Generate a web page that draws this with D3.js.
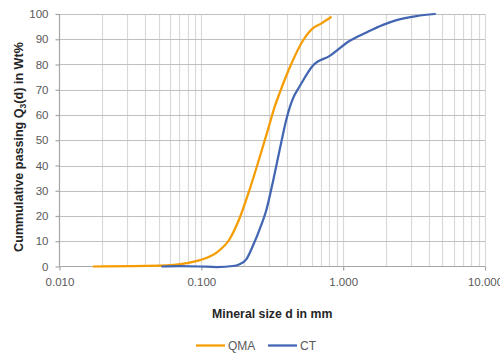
<!DOCTYPE html>
<html>
<head>
<meta charset="utf-8">
<script src="https://cdn.jsdelivr.net/npm/d3@7"></script>
<style>
  html, body { margin: 0; padding: 0; background: #fff; }
  svg { display: block; font-family: "Liberation Sans", Arial, sans-serif; }
</style>
</head>
<body>
<svg id="chart" width="500" height="354"></svg>
<script>
// Particle size distributions (size in mm, cumulative passing in Wt%)
const qmaSize = [0.0174, 0.0508, 0.0787, 0.099, 0.128, 0.158, 0.186, 0.219, 0.251, 0.295, 0.330, 0.357, 0.420, 0.521, 0.613, 0.703, 0.817];
const qmaPass = [0, 0.3, 1.3, 2.6, 5.5, 10.8, 19.1, 30.5, 41.1, 54.2, 63.5, 68.8, 78.8, 89.5, 94.4, 96.3, 98.7];

const ctSize = [0.0531, 0.0703, 0.0973, 0.128, 0.172, 0.186, 0.208, 0.231, 0.258, 0.288, 0.320, 0.357, 0.398, 0.420, 0.443, 0.494, 0.613, 0.804, 1.114, 1.46, 1.91, 2.38, 3.29, 4.43];
const ctPass = [0, 0.1, 0, -0.2, 0.3, 0.9, 2.9, 8.2, 14.8, 22.6, 33.7, 46.3, 58.3, 63.0, 66.6, 71.4, 79.6, 83.4, 89.4, 92.7, 95.7, 97.6, 99.2, 100];

const xTicks = [0.01, 0.1, 1, 10];
const xTickLabels = ["0.010", "0.100", "1.000", "10.000"];
const yTicks = [0, 10, 20, 30, 40, 50, 60, 70, 80, 90, 100];

const seriesNames = ["QMA", "CT"];
const seriesColors = ["#f59c00", "#4266b2"];

const series = [
  { name: seriesNames[0], color: seriesColors[0], pts: qmaSize.map((d, i) => [d, qmaPass[i]]) },
  { name: seriesNames[1], color: seriesColors[1], pts: ctSize.map((d, i) => [d, ctPass[i]]) }
];

const svg = d3.select("#chart");
const plot = { left: 59.5, right: 485, top: 14, bottom: 266.5 };

const x = d3.scaleLog().domain([0.01, 10]).range([plot.left, plot.right]);
const y = d3.scaleLinear().domain([0, 100]).range([plot.bottom, plot.top]);

// Minor vertical gridlines (1..9 per decade)
const minor = [];
for (let e = -2; e < 1; e++) {
  for (let m = 1; m <= 9; m++) minor.push(m * Math.pow(10, e));
}
minor.push(10);

svg.append("g")
  .selectAll("line")
  .data(minor.filter(v => v > 0.01))
  .join("line")
  .attr("x1", d => Math.round(x(d)) + 0.5)
  .attr("x2", d => Math.round(x(d)) + 0.5)
  .attr("y1", plot.top)
  .attr("y2", plot.bottom)
  .attr("stroke", "#d9d9d9")
  .attr("stroke-width", 1.2);

// Horizontal gridlines
svg.append("g")
  .selectAll("line")
  .data(yTicks.filter(v => v > 0))
  .join("line")
  .attr("x1", plot.left)
  .attr("x2", plot.right)
  .attr("y1", d => Math.round(y(d)) + 0.5)
  .attr("y2", d => Math.round(y(d)) + 0.5)
  .attr("stroke", "#c0c0c0")
  .attr("stroke-width", 1.2);

// Axes
const yAxis = svg.append("g")
  .attr("transform", `translate(${plot.left},0)`)
  .call(d3.axisLeft(y).tickValues(yTicks).tickSize(4).tickPadding(7).tickFormat(d3.format("d")));

const xAxis = svg.append("g")
  .attr("transform", `translate(0,${plot.bottom})`)
  .call(d3.axisBottom(x).tickValues(xTicks).tickSize(4).tickPadding(7)
    .tickFormat((d, i) => xTickLabels[i]));

[yAxis, xAxis].forEach(g => {
  g.select(".domain").attr("stroke", "#a6a6a6").attr("stroke-width", 1.2);
  g.selectAll(".tick line").attr("stroke", "#a6a6a6").attr("stroke-width", 1.2);
  g.selectAll(".tick text")
    .attr("fill", "#595959")
    .style("font-size", "11.5px")
    .style("font-family", "'Liberation Sans', Arial, sans-serif");
});
// Plain axis lines without end caps
yAxis.select(".domain").attr("d", `M0,${plot.bottom}V${plot.top}`);
xAxis.select(".domain").attr("d", `M${plot.left},0H${plot.right}`);

// Series lines
const line = d3.line()
  .x(d => x(d[0]))
  .y(d => y(d[1]))
  .curve(d3.curveMonotoneX);

svg.append("g")
  .selectAll("path")
  .data(series)
  .join("path")
  .attr("d", d => line(d.pts))
  .attr("fill", "none")
  .attr("stroke", d => d.color)
  .attr("stroke-width", 2.25)
  .attr("stroke-linecap", "round")
  .attr("stroke-linejoin", "round");

// Axis titles
svg.append("text")
  .attr("x", (plot.left + plot.right) / 2)
  .attr("y", 318)
  .attr("text-anchor", "middle")
  .attr("font-weight", "bold")
  .attr("font-size", "12.3px")
  .attr("fill", "#262626")
  .text("Mineral size d in mm");

const yTitle = svg.append("text")
  .attr("transform", "translate(23,147) rotate(-90)")
  .attr("text-anchor", "middle")
  .attr("font-weight", "bold")
  .attr("font-size", "12.6px")
  .attr("fill", "#262626");
yTitle.append("tspan").text("Cummulative passing Q");
yTitle.append("tspan").attr("font-size", "8.5px").attr("dy", 3).text("3");
yTitle.append("tspan").attr("dy", -3).text("(d) in Wt%");

// Legend
const legendItems = [
  { name: seriesNames[0], color: seriesColors[0], x: 196 },
  { name: seriesNames[1], color: seriesColors[1], x: 268 }
];
const lg = svg.append("g").selectAll("g").data(legendItems).join("g")
  .attr("transform", d => `translate(${d.x},345.5)`);
lg.append("line")
  .attr("x1", 0).attr("x2", 29)
  .attr("stroke", d => d.color)
  .attr("stroke-width", 2.25);
lg.append("text")
  .attr("x", 32)
  .attr("dy", "0.35em")
  .attr("font-size", "12px")
  .attr("fill", "#595959")
  .text(d => d.name);
</script>
</body>
</html>
